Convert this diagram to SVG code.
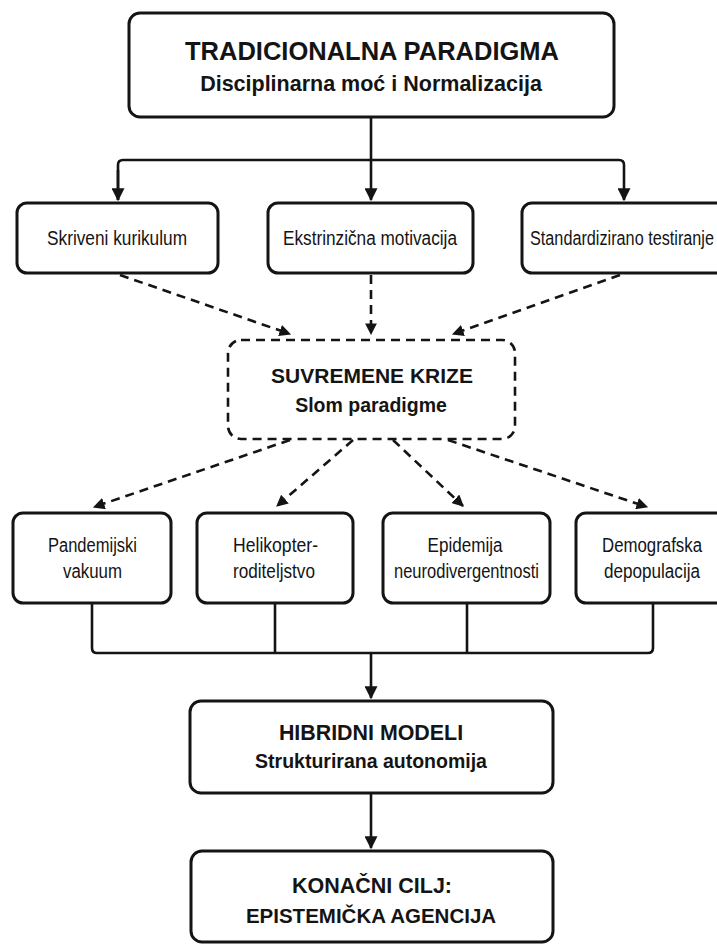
<svg xmlns="http://www.w3.org/2000/svg" width="717" height="944" viewBox="0 0 717 944">
<style>
.box{fill:#fff;stroke:#141414;stroke-width:3}
.dbox{fill:#fff;stroke:#141414;stroke-width:2.6;stroke-dasharray:9 6}
.ln{fill:none;stroke:#141414;stroke-width:2.6}
.dl{fill:none;stroke:#141414;stroke-width:2.6;stroke-dasharray:9 6}
text{font-family:"Liberation Sans",Arial,sans-serif;fill:#141414;text-anchor:middle}
.b{font-weight:bold}
.r{font-size:20px}
</style>
<defs>
<marker id="ah" viewBox="0 0 10 10" refX="9" refY="5" markerWidth="5" markerHeight="5" orient="auto" markerUnits="strokeWidth">
<path d="M0,0 L10,5 L0,10 Z" fill="#141414"/>
</marker>
<marker id="ahd" viewBox="0 0 10 10" refX="9" refY="5" markerWidth="4.5" markerHeight="4.5" orient="auto" markerUnits="strokeWidth">
<path d="M0,0 L10,5 L0,10 Z" fill="#141414"/>
</marker>
</defs>
<rect width="717" height="944" fill="#fff"/>

<g id="connectors">
<path class="ln" d="M371,117 V160"/>
<path class="ln" d="M118,200 V165 Q118,160 123,160 H619 Q624,160 624,165 V200" marker-end="url(#ah)"/>
<path class="ln" d="M118,170 V200" marker-end="url(#ah)"/>
<path class="ln" d="M371,160 V200" marker-end="url(#ah)"/>
<path class="dl" d="M120,275 L290,334" marker-end="url(#ahd)"/>
<path class="dl" d="M371,275 L371,334" marker-end="url(#ahd)"/>
<path class="dl" d="M620,275 L453,334" marker-end="url(#ahd)"/>
<path class="dl" d="M290,440 L94,507" marker-end="url(#ahd)"/>
<path class="dl" d="M353,440 L277,506" marker-end="url(#ahd)"/>
<path class="dl" d="M393,440 L463,506" marker-end="url(#ahd)"/>
<path class="dl" d="M448,440 L647,507" marker-end="url(#ahd)"/>
<path class="ln" d="M92,604 V648 Q92,653 97,653 H648 Q653,653 653,648 V604"/>
<path class="ln" d="M275,604 V653"/>
<path class="ln" d="M467,604 V653"/>
<path class="ln" d="M371,653 V698" marker-end="url(#ah)"/>
<path class="ln" d="M371,793 V848" marker-end="url(#ah)"/>
</g>

<g id="n-tradicionalna">
<rect class="box" x="129" y="13" width="485" height="104" rx="11"/>
<text class="b" x="372" y="60" font-size="25.5">TRADICIONALNA PARADIGMA</text>
<text class="b" x="371" y="91" font-size="21.5">Disciplinarna moć i Normalizacija</text>
</g>

<g id="n-skriveni">
<rect class="box" x="17" y="203" width="201" height="70" rx="10"/>
<text class="r" x="117" y="245" textLength="140" lengthAdjust="spacingAndGlyphs">Skriveni kurikulum</text>
</g>
<g id="n-ekstrinzicna">
<rect class="box" x="268" y="203" width="205" height="70" rx="10"/>
<text class="r" x="370" y="245" textLength="174" lengthAdjust="spacingAndGlyphs">Ekstrinzična motivacija</text>
</g>
<g id="n-standardizirano">
<rect class="box" x="522" y="203" width="210" height="70" rx="10"/>
<text class="r" x="622" y="245" textLength="184" lengthAdjust="spacingAndGlyphs">Standardizirano testiranje</text>
</g>

<g id="n-krize">
<rect class="dbox" x="228" y="340" width="287" height="99" rx="13"/>
<text class="b" x="372" y="383" font-size="21">SUVREMENE KRIZE</text>
<text class="b" x="371" y="412" font-size="19.5">Slom paradigme</text>
</g>

<g id="n-pandemijski">
<rect class="box" x="13" y="513" width="158" height="90" rx="10"/>
<text class="r" x="92.5" y="552" textLength="89" lengthAdjust="spacingAndGlyphs">Pandemijski</text>
<text class="r" x="92.5" y="578" textLength="59" lengthAdjust="spacingAndGlyphs">vakuum</text>
</g>
<g id="n-helikopter">
<rect class="box" x="197" y="513" width="156" height="90" rx="10"/>
<text class="r" x="275.5" y="552" textLength="85" lengthAdjust="spacingAndGlyphs">Helikopter-</text>
<text class="r" x="274" y="578" textLength="82" lengthAdjust="spacingAndGlyphs">roditeljstvo</text>
</g>
<g id="n-epidemija">
<rect class="box" x="383" y="513" width="167" height="90" rx="10"/>
<text class="r" x="465" y="552" textLength="75" lengthAdjust="spacingAndGlyphs">Epidemija</text>
<text class="r" x="466.5" y="578" textLength="145" lengthAdjust="spacingAndGlyphs">neurodivergentnosti</text>
</g>
<g id="n-demografska">
<rect class="box" x="576" y="513" width="160" height="90" rx="10"/>
<text class="r" x="652" y="552" textLength="100" lengthAdjust="spacingAndGlyphs">Demografska</text>
<text class="r" x="652" y="578" textLength="96" lengthAdjust="spacingAndGlyphs">depopulacija</text>
</g>

<g id="n-hibridni">
<rect class="box" x="190" y="701" width="363" height="92" rx="11"/>
<text class="b" x="371" y="740" font-size="21.4">HIBRIDNI MODELI</text>
<text class="b" x="371" y="768" font-size="19.5">Strukturirana autonomija</text>
</g>

<g id="n-konacni">
<rect class="box" x="191" y="851" width="362" height="91" rx="11"/>
<text class="b" x="372" y="893" font-size="21.5">KONAČNI CILJ:</text>
<text class="b" x="371" y="923" font-size="20.5">EPISTEMIČKA AGENCIJA</text>
</g>
</svg>
